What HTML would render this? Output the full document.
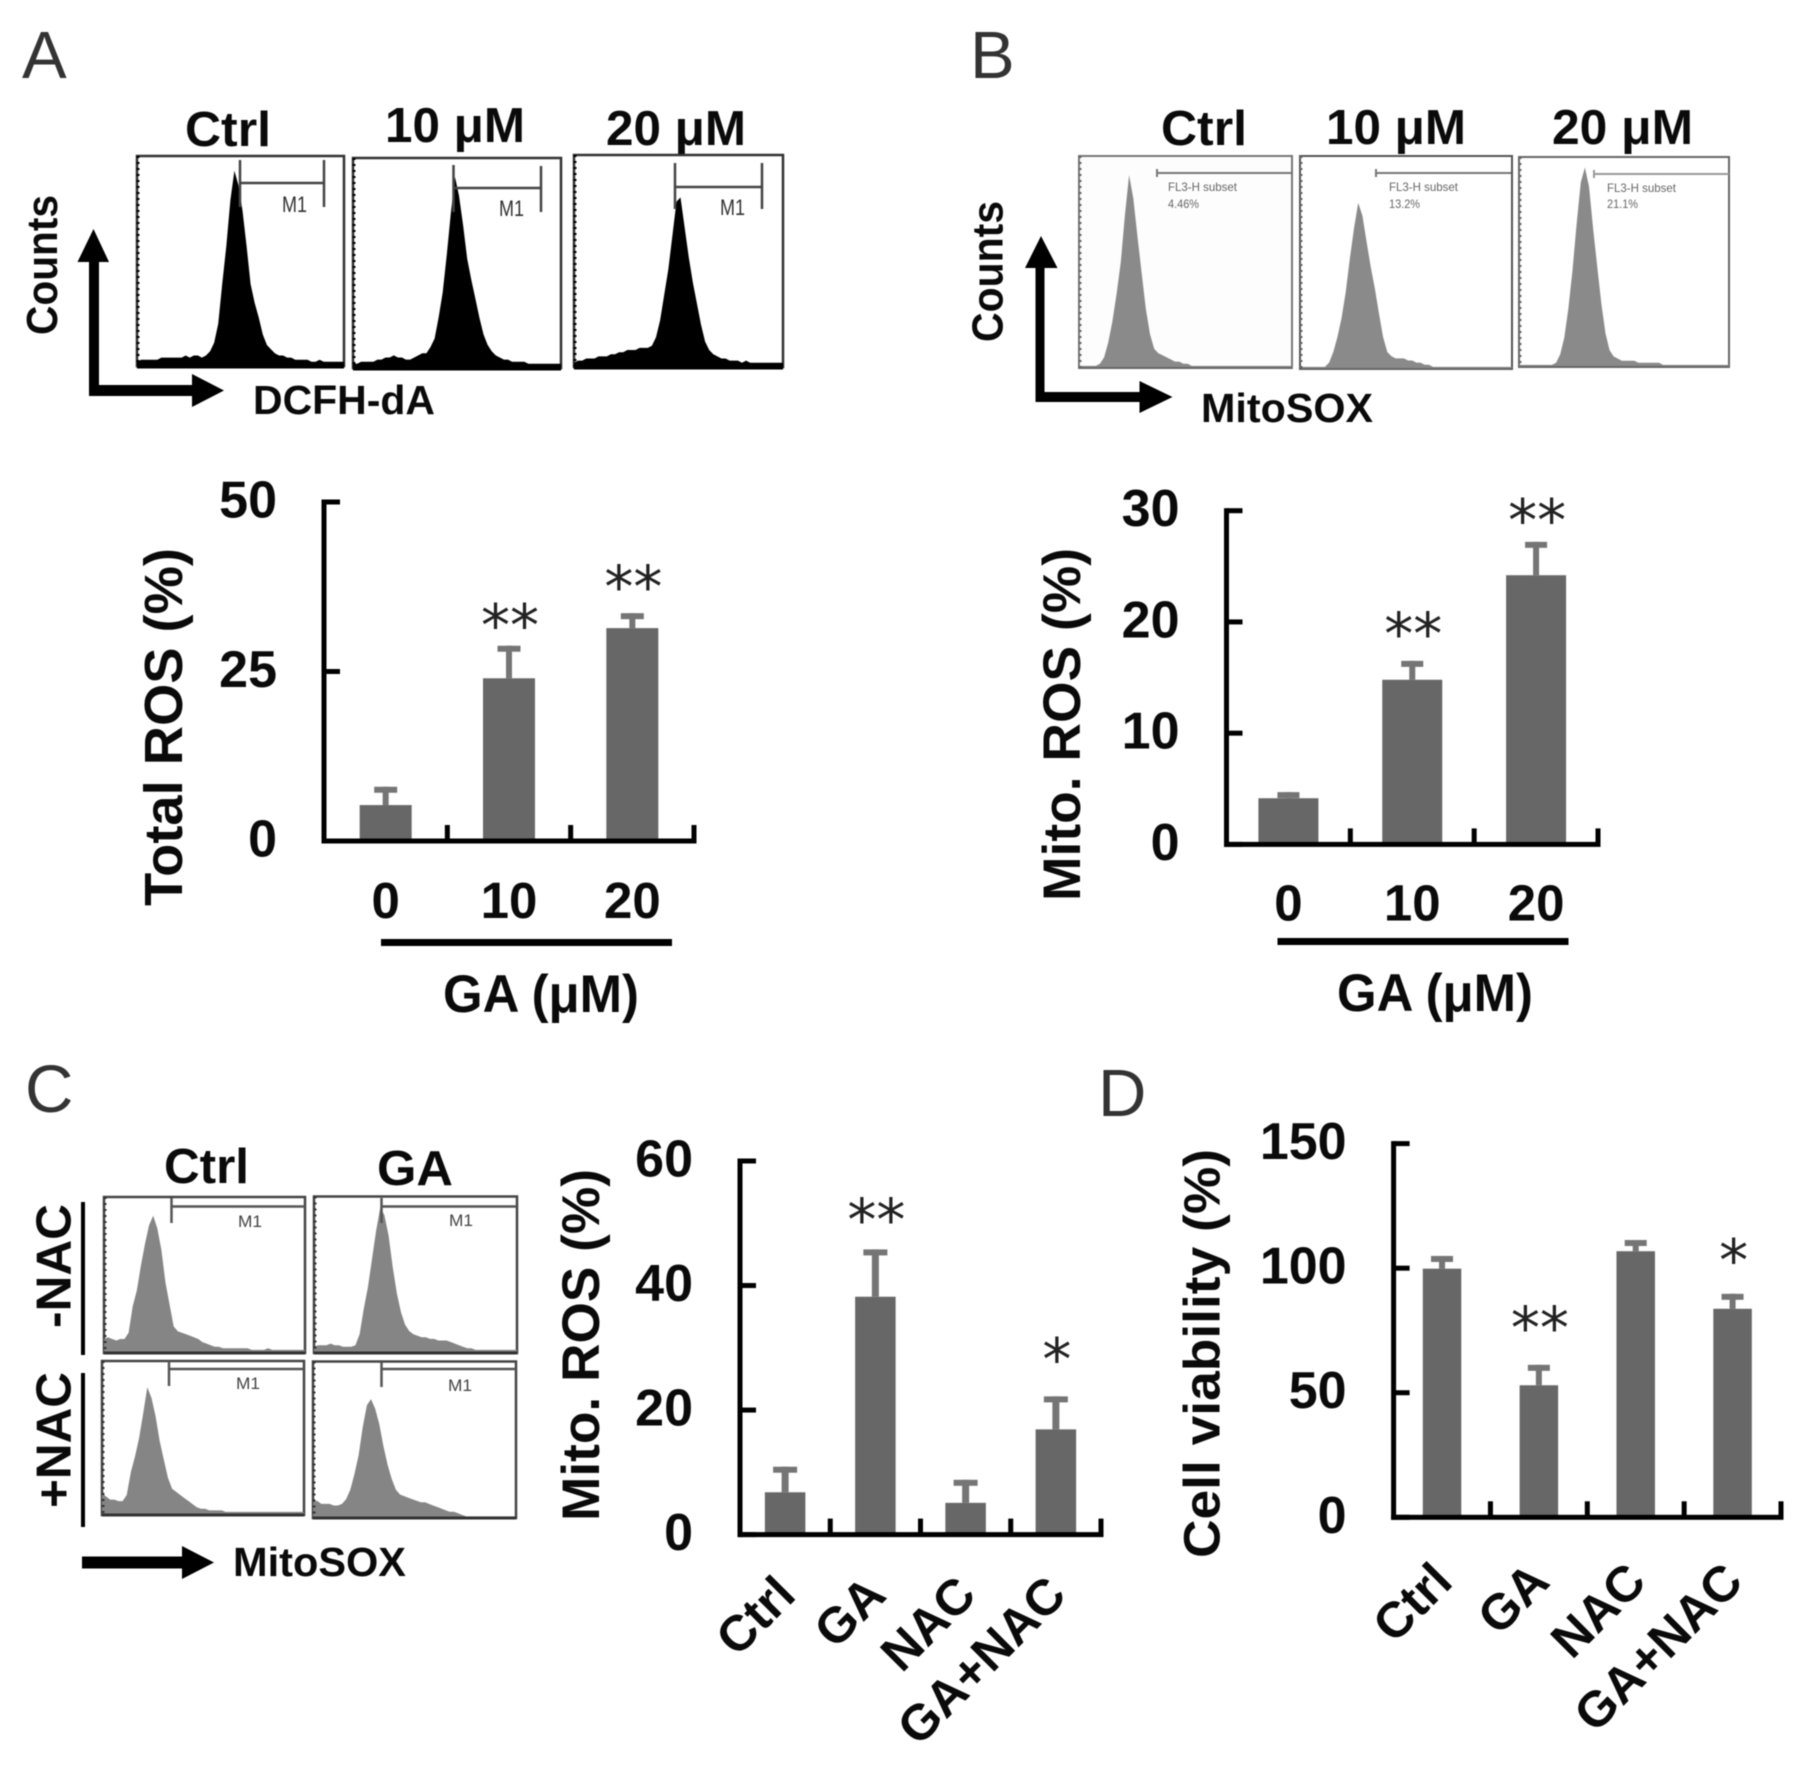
<!DOCTYPE html>
<html lang="en">
<head>
<meta charset="utf-8">
<title>GA ROS figure</title>
<style>
html,body{margin:0;padding:0;background:#fff;}
svg{display:block;filter:blur(0.6px);}
text{font-family:"Liberation Sans",sans-serif;}
.b{font-weight:bold;fill:#0a0a0a;}
.letter{font-size:67px;fill:#333;font-weight:normal;}
.sm{font-size:22px;fill:#333;}
.xs{font-size:12px;fill:#666;}
</style>
</head>
<body>
<svg id="fig" xmlns="http://www.w3.org/2000/svg" width="1805" height="1765" viewBox="0 0 1805 1765">
<rect x="0" y="0" width="1805" height="1765" fill="#fff"/>

<text class="letter" x="22" y="78">A</text>
<text class="letter" x="970" y="78">B</text>
<text class="letter" x="25" y="1112">C</text>
<text class="letter" x="1098" y="1116">D</text>

<!-- Panel A flow -->
<g>
<text class="b" font-size="49" x="185" y="146" textLength="86" lengthAdjust="spacingAndGlyphs">Ctrl</text>
<text class="b" font-size="49" x="385" y="142" textLength="140" lengthAdjust="spacingAndGlyphs">10 μM</text>
<text class="b" font-size="49" x="606" y="145" textLength="140" lengthAdjust="spacingAndGlyphs">20 μM</text>
<rect x="137" y="156" width="207" height="210" fill="none" stroke="#333" stroke-width="2.5"/>
<rect x="353" y="158" width="208" height="210" fill="none" stroke="#333" stroke-width="2.5"/>
<rect x="574" y="155" width="209" height="212" fill="none" stroke="#333" stroke-width="2.5"/>
<g id="hist-a"></g>
<path d="M240 160V207M240 183H324M324 160V207" fill="none" stroke="#444" stroke-width="2.5"/>
<path d="M453.500 165V212M453.500 188H541M541 166V212" fill="none" stroke="#444" stroke-width="2.5"/>
<path d="M675 163V209M675 187H762M762 163V209" fill="none" stroke="#444" stroke-width="2.5"/>
<text class="sm" x="282" y="212" textLength="25" lengthAdjust="spacingAndGlyphs">M1</text>
<text class="sm" x="499" y="216" textLength="25" lengthAdjust="spacingAndGlyphs">M1</text>
<text class="sm" x="720" y="215" textLength="25" lengthAdjust="spacingAndGlyphs">M1</text>
<path d="M89 396V262H77.500L93.500 229L109 262H99V385H192V374L224 390.500L192 407V396Z" fill="#000"/>
<text class="b" font-size="44" transform="translate(57 335) rotate(-90)" textLength="140" lengthAdjust="spacingAndGlyphs">Counts</text>
<text class="b" font-size="41" x="253" y="414" textLength="182" lengthAdjust="spacingAndGlyphs">DCFH-dA</text>
</g>

<!-- Panel B flow -->
<g>
<text class="b" font-size="49" x="1161" y="145" textLength="86" lengthAdjust="spacingAndGlyphs">Ctrl</text>
<text class="b" font-size="49" x="1326" y="144" textLength="140" lengthAdjust="spacingAndGlyphs">10 μM</text>
<text class="b" font-size="49" x="1552" y="144" textLength="141" lengthAdjust="spacingAndGlyphs">20 μM</text>
<rect x="1079" y="156" width="213" height="212" fill="#fdfdfd" stroke="#777" stroke-width="2"/>
<rect x="1300" y="156" width="212" height="213" fill="none" stroke="#555" stroke-width="2"/>
<rect x="1519" y="157" width="210" height="210" fill="none" stroke="#666" stroke-width="2"/>
<g id="hist-b"></g>
<path d="M1157 169V177M1157 173H1292" fill="none" stroke="#777" stroke-width="2"/>
<path d="M1376 169V177M1376 173H1511" fill="none" stroke="#777" stroke-width="2"/>
<path d="M1594 170V178M1594 174H1729" fill="none" stroke="#999" stroke-width="2"/>
<text class="xs" x="1168" y="191" textLength="69" lengthAdjust="spacingAndGlyphs">FL3-H subset</text>
<text class="xs" x="1168" y="208" textLength="31" lengthAdjust="spacingAndGlyphs">4.46%</text>
<text class="xs" x="1389" y="191" textLength="69" lengthAdjust="spacingAndGlyphs">FL3-H subset</text>
<text class="xs" x="1389" y="208" textLength="31" lengthAdjust="spacingAndGlyphs">13.2%</text>
<text class="xs" x="1607" y="192" textLength="69" lengthAdjust="spacingAndGlyphs">FL3-H subset</text>
<text class="xs" x="1607" y="208" textLength="31" lengthAdjust="spacingAndGlyphs">21.1%</text>
<path d="M1035.500 402V268H1025L1041 236L1057.500 268H1044.500V392H1139.500V381L1172.500 397L1139.500 413V402Z" fill="#000"/>
<text class="b" font-size="44" transform="translate(1002.500 342) rotate(-90)" textLength="141" lengthAdjust="spacingAndGlyphs">Counts</text>
<text class="b" font-size="41" x="1201" y="422" textLength="172" lengthAdjust="spacingAndGlyphs">MitoSOX</text>
</g>

<!-- Panel C flow -->
<g>
<text class="b" font-size="49" x="164" y="1183" textLength="85" lengthAdjust="spacingAndGlyphs">Ctrl</text>
<text class="b" font-size="49" x="377" y="1185" textLength="76" lengthAdjust="spacingAndGlyphs">GA</text>
<rect x="104" y="1197" width="201" height="156" fill="none" stroke="#444" stroke-width="2.5"/>
<rect x="314" y="1196.500" width="203" height="156.500" fill="none" stroke="#444" stroke-width="2.500"/>
<rect x="102" y="1361" width="202" height="154" fill="none" stroke="#444" stroke-width="2.500"/>
<rect x="313" y="1361.500" width="203" height="156.500" fill="none" stroke="#444" stroke-width="2.500"/>
<g id="hist-c"></g>
<path d="M171.500 1198V1223M171.500 1206.500H305" fill="none" stroke="#555" stroke-width="2.500"/>
<path d="M381.500 1198V1223M381.500 1206.500H517" fill="none" stroke="#555" stroke-width="2.500"/>
<path d="M169 1361V1386M169 1369H304" fill="none" stroke="#555" stroke-width="2.500"/>
<path d="M381.500 1362V1387M381.500 1369H516" fill="none" stroke="#555" stroke-width="2.500"/>
<text x="238" y="1227" font-size="17" fill="#444" textLength="24" lengthAdjust="spacingAndGlyphs">M1</text>
<text x="449" y="1226" font-size="17" fill="#444" textLength="24" lengthAdjust="spacingAndGlyphs">M1</text>
<text x="236" y="1389" font-size="17" fill="#444" textLength="24" lengthAdjust="spacingAndGlyphs">M1</text>
<text x="448" y="1391" font-size="17" fill="#444" textLength="24" lengthAdjust="spacingAndGlyphs">M1</text>
<rect x="81" y="1202" width="4" height="153" fill="#000"/>
<rect x="81" y="1373" width="4" height="154" fill="#000"/>
<text class="b" font-size="49" transform="translate(70.500 1328) rotate(-90)" textLength="124" lengthAdjust="spacingAndGlyphs">-NAC</text>
<text class="b" font-size="49" transform="translate(70.500 1508) rotate(-90)" textLength="136" lengthAdjust="spacingAndGlyphs">+NAC</text>
<path d="M82 1556.500H182V1546L214 1562.500L182 1579V1568.500H82Z" fill="#000"/>
<text class="b" font-size="41" x="233" y="1576" textLength="173" lengthAdjust="spacingAndGlyphs">MitoSOX</text>
</g>

<!-- Bar chart fixed labels -->
<text class="b" font-size="54" transform="translate(182 906) rotate(-90)" textLength="358" lengthAdjust="spacingAndGlyphs">Total ROS (%)</text>
<rect x="381" y="939" width="291" height="7" fill="#000"/>
<text class="b" font-size="53" x="443" y="1012" textLength="196" lengthAdjust="spacingAndGlyphs">GA (μM)</text>

<text class="b" font-size="53" transform="translate(1080 901) rotate(-90)" textLength="353" lengthAdjust="spacingAndGlyphs">Mito. ROS (%)</text>
<rect x="1277.500" y="938" width="291" height="7" fill="#000"/>
<text class="b" font-size="53" x="1337" y="1011" textLength="196" lengthAdjust="spacingAndGlyphs">GA (μM)</text>

<text class="b" font-size="52.500" transform="translate(599 1521) rotate(-90)" textLength="352" lengthAdjust="spacingAndGlyphs">Mito. ROS (%)</text>
<text class="b" font-size="51" transform="translate(1219.500 1558) rotate(-90)" textLength="409" lengthAdjust="spacingAndGlyphs">Cell viability (%)</text>

<g id="chart-a"></g>
<g id="chart-b"></g>
<g id="chart-c"></g>
<g id="chart-d"></g>
</svg>

<script>
/* Bar chart data */
const panelACategories = ['0', '10', '20'];
const panelAValues = [5.3, 24, 31.4];
const panelAErrors = [2.7, 4.8, 2.2];
const panelATicks = [0, 25, 50];
const panelAStars = ['', '**', '**'];
const panelAStarLevels = [0, 32.9, 38.6];

const panelBCategories = ['0', '10', '20'];
const panelBValues = [4.15, 14.8, 24.2];
const panelBErrors = [0.55, 1.7, 3.0];
const panelBTicks = [0, 10, 20, 30];
const panelBStars = ['', '**', '**'];
const panelBStarLevels = [0, 19.6, 29.8];

const panelCCategories = ['Ctrl', 'GA', 'NAC', 'GA+NAC'];
const panelCValues = [6.8, 38.2, 5.1, 16.9];
const panelCErrors = [4.1, 7.6, 3.7, 5.3];
const panelCTicks = [0, 20, 40, 60];
const panelCStars = ['', '**', '', '*'];
const panelCStarLevels = [0, 51.7, 0, 29.3];

const panelDCategories = ['Ctrl', 'GA', 'NAC', 'GA+NAC'];
const panelDValues = [99.8, 53, 106.8, 83.7];
const panelDErrors = [5.1, 8.2, 4.5, 6.0];
const panelDTicks = [0, 50, 100, 150];
const panelDStars = ['', '**', '', '*'];
const panelDStarLevels = [0, 78.9, 0, 106.1];

/* Histogram counts, percent of plot height per channel bin */
const histACtrl = [2,3,3,3,3,3,4,4,4,4,4,4,5,4,5,5,4,5,7,11,20,39,57,79,93,86,74,57,39,30,23,15,10,8,6,5,5,4,4,3,3,3,3,2,2,3,2,2,2,2,2,2];
const histA10 = [2,2,3,3,3,3,4,4,5,5,6,5,5,4,4,5,6,7,7,10,14,24,36,54,74,91,82,68,52,42,33,24,16,11,8,6,5,4,4,3,3,3,3,2,2,2,2,2,2,2,2,2];
const histA20 = [2,3,3,4,4,4,5,5,5,6,6,7,7,8,8,8,9,9,9,10,14,22,34,46,62,78,80,66,52,40,30,20,12,8,6,5,4,4,3,3,3,2,3,2,2,2,2,2,2,2,2,2];
const histBCtrl = [1,1,1,1,1,2,5,12,22,35,50,72,91,80,62,45,28,16,9,7,6,5,4,3,3,2,2,1,1,1,1,1,1,1,1,1,1,1,1,1,1,1,1,1,1,1,1,1,1,1,1,1];
const histB10 = [1,1,1,1,1,1,1,3,8,15,24,36,52,66,78,72,60,48,38,26,15,8,6,5,5,5,4,4,3,3,2,2,1,1,1,1,1,1,1,1,1,1,1,1,1,1,1,1,1,1,1,1];
const histB20 = [1,1,1,1,1,1,1,1,1,2,6,14,28,46,68,88,95,86,66,48,30,16,8,5,4,3,3,3,3,2,2,2,2,2,2,1,1,1,1,1,1,1,1,1,1,1,1,1,1,1,1,1];
const histCMinusCtrl = [9,10,9,8,9,9,13,30,40,56,70,82,88,80,66,45,31,17,14,13,12,11,10,9,7,6,5,4,4,3,3,3,3,3,3,3,2,2,2,2,3,2,2,2,2,2,2,2,2,2];
const histCMinusGa = [4,5,5,5,6,5,5,4,4,4,5,12,28,42,60,78,93,88,75,55,38,26,18,14,12,11,10,10,9,9,8,8,8,7,6,5,4,3,3,2,2,2,2,2,2,2,2,2,2,2];
const histCPlusCtrl = [14,12,10,10,9,9,13,28,38,50,66,83,76,64,48,36,24,17,15,13,11,9,7,5,4,4,3,3,3,3,2,2,2,2,2,2,2,2,2,2,2,2,2,2,2,2,2,2,2,2];
const histCPlusGa = [10,11,9,9,9,8,8,9,12,18,28,40,58,72,76,70,60,46,34,25,18,15,14,13,12,11,10,10,9,8,7,6,5,4,4,3,2,1,1,1,1,1,1,1,1,1,1,1,1,1];

const SVG_NS = 'http://www.w3.org/2000/svg';

function createSvg(parent, tag) {
  const el = document.createElementNS(SVG_NS, tag);
  parent.appendChild(el);
  return el;
}

function drawHistogram(parent, counts, box, fill, lineColor, lineWidth) {
  const xOf = function (i) { return box.x + (i / (counts.length - 1)) * box.w; };
  const yOf = function (c) { return box.y + box.h - (c / 100) * box.h; };
  let d = 'M' + box.x + ' ' + (box.y + box.h);
  counts.forEach(function (c, i) {
    d += 'L' + xOf(i).toFixed(1) + ' ' + yOf(c).toFixed(1);
  });
  d += 'L' + (box.x + box.w) + ' ' + (box.y + box.h) + 'Z';
  const area = createSvg(parent, 'path');
  area.setAttribute('d', d);
  area.setAttribute('fill', fill);
  
  
  const base = createSvg(parent, 'line');
  base.setAttribute('x1', box.x);
  base.setAttribute('x2', box.x + box.w);
  base.setAttribute('y1', box.y + box.h);
  base.setAttribute('y2', box.y + box.h);
  base.setAttribute('stroke', lineColor);
  base.setAttribute('stroke-width', lineWidth);
  
  
  const ruler = createSvg(parent, 'line');
  ruler.setAttribute('x1', box.x + 1);
  ruler.setAttribute('x2', box.x + 1);
  ruler.setAttribute('y1', box.y);
  ruler.setAttribute('y2', box.y + box.h);
  ruler.setAttribute('stroke', lineColor);
  ruler.setAttribute('stroke-width', 3);
  ruler.setAttribute('stroke-dasharray', '2 4');
  
  
}

const histAGroup = document.getElementById('hist-a');
drawHistogram(histAGroup, histACtrl, {x: 137, y: 156, w: 207, h: 210}, '#000', '#000', 5);
drawHistogram(histAGroup, histA10, {x: 353, y: 158, w: 208, h: 210}, '#000', '#000', 5);
drawHistogram(histAGroup, histA20, {x: 574, y: 155, w: 209, h: 212}, '#000', '#000', 5);
const histBGroup = document.getElementById('hist-b');
drawHistogram(histBGroup, histBCtrl, {x: 1079, y: 156, w: 213, h: 212}, '#8a8a8a', '#666', 2);
drawHistogram(histBGroup, histB10, {x: 1300, y: 156, w: 212, h: 213}, '#8a8a8a', '#666', 2);
drawHistogram(histBGroup, histB20, {x: 1519, y: 157, w: 210, h: 210}, '#8a8a8a', '#666', 2);
const histCGroup = document.getElementById('hist-c');
drawHistogram(histCGroup, histCMinusCtrl, {x: 104, y: 1197, w: 201, h: 156}, '#858585', '#333', 3);
drawHistogram(histCGroup, histCMinusGa, {x: 314, y: 1196.5, w: 203, h: 156.5}, '#858585', '#333', 3);
drawHistogram(histCGroup, histCPlusCtrl, {x: 102, y: 1361, w: 202, h: 154}, '#858585', '#333', 3);
drawHistogram(histCGroup, histCPlusGa, {x: 313, y: 1361.5, w: 203, h: 156.5}, '#858585', '#333', 3);

function drawBarChart(parent, layout, categories, values, errors, ticks, stars, starLevels) {
  const maxTick = ticks[ticks.length - 1];
  const yOf = function (v) { return layout.bottom - (v / maxTick) * (layout.bottom - layout.top); };
  const step = (layout.right - layout.left) / categories.length;
  const xOf = function (i) { return layout.left + (i + 0.5) * step; };

  values.forEach(function (v, i) {
    const cx = xOf(i);
    const stem = createSvg(parent, 'rect');
    stem.setAttribute('x', cx - layout.stem / 2);
    stem.setAttribute('y', yOf(v + errors[i]));
    stem.setAttribute('width', layout.stem);
    stem.setAttribute('height', yOf(v) - yOf(v + errors[i]));
    stem.setAttribute('fill', '#757575');
    
    
    const cap = createSvg(parent, 'rect');
    cap.setAttribute('x', cx - layout.cap / 2);
    cap.setAttribute('y', yOf(v + errors[i]));
    cap.setAttribute('width', layout.cap);
    cap.setAttribute('height', 6);
    cap.setAttribute('fill', '#757575');
    
    
    const bar = createSvg(parent, 'rect');
    bar.setAttribute('x', cx - layout.bar / 2);
    bar.setAttribute('y', yOf(v));
    bar.setAttribute('width', layout.bar);
    bar.setAttribute('height', yOf(0) - yOf(v));
    bar.setAttribute('fill', '#676767');
    
    
  });

  const yAxis = createSvg(parent, 'rect');
  yAxis.setAttribute('x', layout.left - 2.5);
  yAxis.setAttribute('y', layout.top - 2.5);
  yAxis.setAttribute('width', 5);
  yAxis.setAttribute('height', layout.bottom - layout.top + 5);
  yAxis.setAttribute('fill', '#000');
  
  
  const xAxis = createSvg(parent, 'rect');
  xAxis.setAttribute('x', layout.left - 2.5);
  xAxis.setAttribute('y', layout.bottom - 2.5);
  xAxis.setAttribute('width', layout.right - layout.left + 5);
  xAxis.setAttribute('height', 5);
  xAxis.setAttribute('fill', '#000');
  
  

  ticks.forEach(function (t) {
    const mark = createSvg(parent, 'rect');
    mark.setAttribute('x', layout.left);
    mark.setAttribute('y', yOf(t) - 2.5);
    mark.setAttribute('width', 16);
    mark.setAttribute('height', 5);
    mark.setAttribute('fill', '#000');
    
    
    const label = createSvg(parent, 'text');
    label.setAttribute('x', layout.left - 47);
    label.setAttribute('y', yOf(t) + 15.5);
    label.setAttribute('text-anchor', 'end');
    label.setAttribute('class', 'b');
    label.setAttribute('font-size', 52);
    label.textContent = String(t);
    
    
  });

  categories.forEach(function (c, i) {
    const tickMark = createSvg(parent, 'rect');
    tickMark.setAttribute('x', layout.left + (i + 1) * step - 2.5);
    tickMark.setAttribute('y', layout.bottom - 16);
    tickMark.setAttribute('width', 5);
    tickMark.setAttribute('height', 16);
    tickMark.setAttribute('fill', '#000');
    
    
    const label = createSvg(parent, 'text');
    label.setAttribute('class', 'b');
    label.textContent = c;
    if (layout.rotate) {
      const ax = xOf(i);
      const ay = layout.bottom + layout.labelOffset;
      label.setAttribute('font-size', 50);
      label.setAttribute('text-anchor', 'end');
      label.setAttribute('x', ax);
      label.setAttribute('y', ay + 18);
      label.setAttribute('transform', 'rotate(' + layout.rotate + ' ' + ax + ' ' + ay + ')');
    } else {
      label.setAttribute('font-size', 51);
      label.setAttribute('text-anchor', 'middle');
      label.setAttribute('x', xOf(i));
      label.setAttribute('y', layout.bottom + layout.labelOffset);
    }
    
    
  });

  stars.forEach(function (s, i) {
    if (!s) { return; }
    const star = createSvg(parent, 'text');
    star.setAttribute('x', xOf(i) + 1);
    star.setAttribute('y', yOf(starLevels[i]) + 27.5);
    star.setAttribute('text-anchor', 'middle');
    star.setAttribute('font-size', 58);
    star.setAttribute('fill', '#222');
    star.setAttribute('style', 'font-family:"DejaVu Sans",sans-serif;');
    star.textContent = s;
    
    
  });
}

drawBarChart(document.getElementById('chart-a'),
  {left: 324, right: 694, top: 502, bottom: 841, bar: 52, cap: 23, stem: 6, labelOffset: 77},
  panelACategories, panelAValues, panelAErrors, panelATicks, panelAStars, panelAStarLevels);
drawBarChart(document.getElementById('chart-b'),
  {left: 1226.5, right: 1598, top: 510.7, bottom: 844.4, bar: 60, cap: 22, stem: 6, labelOffset: 76},
  panelBCategories, panelBValues, panelBErrors, panelBTicks, panelBStars, panelBStarLevels);
drawBarChart(document.getElementById('chart-c'),
  {left: 740, right: 1101, top: 1161, bottom: 1534.6, bar: 40.5, cap: 24, stem: 7, labelOffset: 50, rotate: -45},
  panelCCategories, panelCValues, panelCErrors, panelCTicks, panelCStars, panelCStarLevels);
drawBarChart(document.getElementById('chart-d'),
  {left: 1393.6, right: 1781, top: 1143.6, bottom: 1517.3, bar: 38.5, cap: 22, stem: 6, labelOffset: 54, rotate: -45},
  panelDCategories, panelDValues, panelDErrors, panelDTicks, panelDStars, panelDStarLevels);
</script>
</body>
</html>
